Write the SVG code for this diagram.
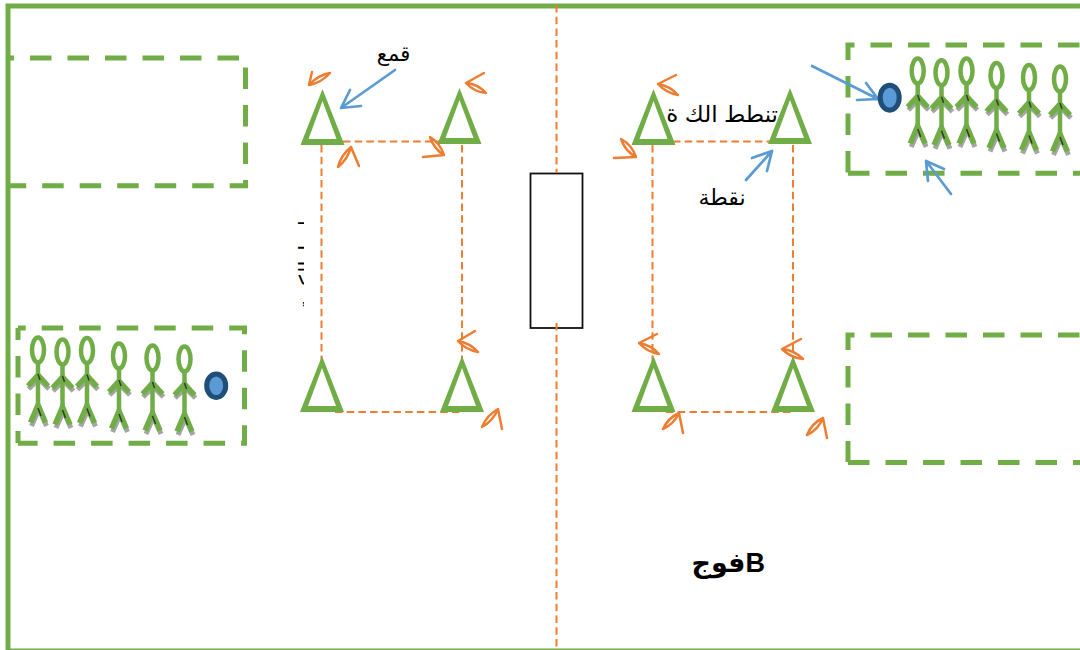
<svg xmlns="http://www.w3.org/2000/svg" width="1080" height="650" viewBox="0 0 1080 650">
<style>
.g{fill:none;stroke:#70AD47;stroke-width:5}
.d{fill:none;stroke:#70AD47;stroke-width:5;stroke-dasharray:21.5 16}
.o{fill:none;stroke:#ED7D31;stroke-width:2;stroke-dasharray:7.5 4.2}
.s{fill:none;stroke:#ED7D31;stroke-width:2.5;stroke-linecap:round;stroke-linejoin:round}
.b{fill:none;stroke:#5B9BD5;stroke-width:2.7;stroke-linecap:round;stroke-linejoin:round}
.t{fill:#70AD47;fill-rule:evenodd}
.ball{fill:#5B9BD5;stroke:#1F4E79;stroke-width:5}
text{font-family:"Liberation Sans","DejaVu Sans",sans-serif;fill:#000;direction:rtl}
</style>
<defs>
<path id="tri" class="t" d="M0,0L22,56H-22ZM0,12L-14,50H14Z"/>
<g id="person">
<path d="M-9.5,39L1,29L11,39M-6.5,76L1,59L8.5,76" fill="none" stroke="#A5A5A5" stroke-width="5"/>
<ellipse cx="0" cy="0" rx="6" ry="12.5" fill="none" stroke="#70AD47" stroke-width="4.5"/>
<path d="M0,12V62" fill="none" stroke="#70AD47" stroke-width="4.5"/>
<path d="M-10,36L0,25L10,36M-7.5,72.5L0,55L7.5,72.5" fill="none" stroke="#70AD47" stroke-width="5.5"/>
<path d="M0,24L2,30M0,58L3,66" fill="none" stroke="#2f3b26" stroke-width="1.5"/>
</g>
<clipPath id="cut"><rect x="290" y="190" width="14" height="118"/></clipPath>
</defs>
<rect width="1080" height="650" fill="#fff"/>
<g id="field"><rect class="g" x="8" y="6" width="1100" height="645"/></g>
<g id="net"><rect x="530.5" y="173.5" width="52" height="154.5" fill="#fff" stroke="#111" stroke-width="1.8"/></g>
<g id="zones">
<path id="zone-a" class="d" stroke-dashoffset="15.5" d="M8,58H245.5V185.7H8"/>
<g id="zone-b"><path class="d" stroke-dashoffset="13.8" d="M18,328H244.5V443.3H18"/><path class="d" stroke-dashoffset="9.5" d="M18,443V328"/></g>
<g id="zone-c"><path class="d" d="M1079.5,45H848V173"/><path class="d" d="M848,173.3H1085"/></g>
<g id="zone-d"><path class="d" d="M1079.5,335H848V462"/><path class="d" d="M848,462.5H1085"/></g>
</g>
<g id="connectors">
<path class="o" d="M556.5,5V173"/>
<path class="o" d="M556.5,323V650"/>
<path class="o" d="M321.5,145V365"/>
<path class="o" d="M343,141.5H440"/>
<path class="o" d="M462,145V365"/>
<path class="o" d="M335,412H462"/>
<path class="o" d="M652.5,145V365"/>
<path class="o" d="M673,141.5H772"/>
<path class="o" d="M793,145V362"/>
<path class="o" d="M666,412H793"/>
<path class="b" d="M395,70L341,108M350,90L341,108L361,106"/>
<path class="b" d="M746,180L772,151M752,158L772,151L767,171"/>
<path class="b" d="M812,66L878,99M866,83L878,99L857,100"/>
<path class="b" d="M951,194L926,161M944,169L926,161L928,181"/>
</g>
<g id="cones">
<use id="cone-1" href="#tri" x="322.5" y="89"/>
<use id="cone-2" href="#tri" x="459.5" y="88"/>
<use id="cone-3" href="#tri" x="653.5" y="89"/>
<use id="cone-4" href="#tri" x="790" y="88"/>
<use id="cone-5" href="#tri" x="322" y="356"/>
<use id="cone-6" href="#tri" x="462" y="356"/>
<use id="cone-7" href="#tri" x="653.5" y="356"/>
<use id="cone-8" href="#tri" x="793" y="356"/>
</g>
<g id="swirls">
<path class="s" d="M312,72L309,85Q321,83 330,73Q318,75 309,85"/>
<path class="s" d="M484,73L466,83Q474,92 486,93Q478,84 466,83"/>
<path class="s" d="M359,166L351,147Q348,159 338,167Q341,155 351,147"/>
<path class="s" d="M423,157L444,155Q440,143 430,137Q434,149 444,155"/>
<path class="s" d="M676,75L658,84Q666,93 678,95Q670,86 658,84"/>
<path class="s" d="M614,158L636,157Q632,145 621,139Q625,151 636,157"/>
<path class="s" d="M657,334L639,343Q647,352 659,354Q651,345 639,343"/>
<path class="s" d="M801,339L782,349Q791,358 803,359Q794,350 782,349"/>
<path class="s" d="M683,433L679,413Q674,424 663,429Q668,418 679,413"/>
<path class="s" d="M827,438L823,418Q818,430 807,435Q812,423 823,418"/>
<path class="s" d="M475,331L458,341Q466,350 478,352Q470,343 458,341"/>
<path class="s" d="M502,429L498,409Q493,421 482,427Q487,415 498,409"/>
</g>
<g id="team-left">
<use href="#person" x="38" y="350"/>
<use href="#person" x="62.5" y="352"/>
<use href="#person" x="87" y="350.5"/>
<use href="#person" x="119" y="356"/>
<use href="#person" x="152.5" y="358"/>
<use href="#person" x="184.5" y="359"/>
<ellipse class="ball" cx="216.2" cy="385.7" rx="9.5" ry="11.7"/>
</g>
<g id="team-right">
<use href="#person" x="917.7" y="71"/>
<use href="#person" x="941.5" y="72.7"/>
<use href="#person" x="966.5" y="71"/>
<use href="#person" x="996.5" y="75.5"/>
<use href="#person" x="1029" y="77.5"/>
<use href="#person" x="1060" y="79"/>
<ellipse class="ball" cx="889.7" cy="97.7" rx="9.5" ry="12.5"/>
</g>
<g id="labels">
<text x="393.5" y="61" font-size="21" text-anchor="middle">قمع</text>
<text x="722" y="205" font-size="22" text-anchor="middle">نقطة</text>
<text x="778" y="122" font-size="23" text-anchor="start">تنطط الك ة</text>
<text x="765" y="572" font-size="27" font-weight="bold" text-anchor="start">Bفوج</text>
<g clip-path="url(#cut)"><text transform="translate(315,196) rotate(-90)" font-size="22" text-anchor="start">تنطيط الكرة</text></g>
</g>
</svg>
